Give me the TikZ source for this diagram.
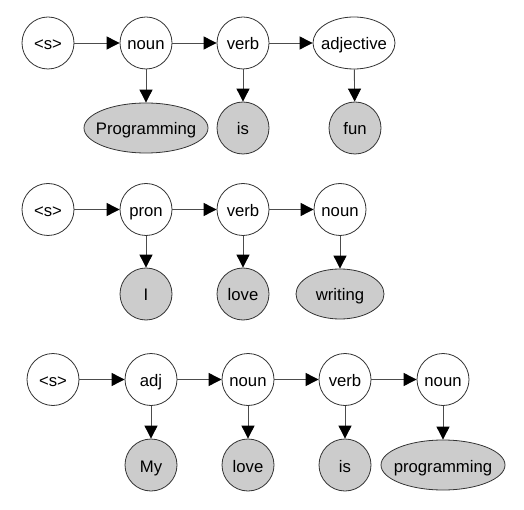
\documentclass[tikz,border=0pt]{standalone}
\usepackage{fontspec}
\setmainfont{Liberation Sans}
\usetikzlibrary{arrows.meta,shapes.geometric}
\tikzset{
  base/.style={draw=black!80, line width=0.8pt, inner sep=0pt, text height=14pt, text depth=0pt, font=\fontsize{16.7}{20}\selectfont},
  tag/.style={base, circle, minimum size=52pt, fill=white},
  tagell/.style={base, ellipse, minimum width=#1, minimum height=52pt, fill=white},
  word/.style={base, circle, minimum size=52pt, fill=black!20},
  wordell/.style={base, ellipse, minimum width=#1, minimum height=50pt, fill=black!20},
  link/.style={draw=black!70, line width=0.9pt, -{Triangle[length=13pt,width=13pt,color=black]}}
}
\begin{document}
\begin{tikzpicture}[x=1pt,y=-1pt]
\path[use as bounding box] (0,0) rectangle (524,510);
% row 1
\node[tag] (s1) at (48,43) {<s>};
\node[tag] (n1) at (146,43) {noun};
\node[tag] (v1) at (243,43) {verb};
\node[tagell=82pt] (a1) at (354,43) {\makebox[0pt]{adjective}};
\node[wordell=124pt] (w11) at (146,128) {\makebox[0pt]{Programming}};
\node[word] (w12) at (243,128) {is};
\node[word] (w13) at (355,128) {fun};
\draw[link] (s1) -- (n1);
\draw[link] (n1) -- (v1);
\draw[link] (v1) -- (a1);
\draw[link] (n1) -- (w11);
\draw[link] (v1) -- (w12);
\draw[link] (a1) -- (w13);
% row 2
\node[tag] (s2) at (48,209.5) {<s>};
\node[tag] (p2) at (146,209.5) {pron};
\node[tag] (v2) at (243,209.5) {verb};
\node[tag] (n2) at (340,209.5) {noun};
\node[word] (w21) at (146,294) {I};
\node[word] (w22) at (243,294) {love};
\node[wordell=88pt] (w23) at (340,294) {\makebox[0pt]{writing}};
\draw[link] (s2) -- (p2);
\draw[link] (p2) -- (v2);
\draw[link] (v2) -- (n2);
\draw[link] (p2) -- (w21);
\draw[link] (v2) -- (w22);
\draw[link] (n2) -- (w23);
% row 3
\node[tag] (s3) at (53,379.5) {<s>};
\node[tag] (a3) at (151,379.5) {adj};
\node[tag] (n3) at (248,379.5) {noun};
\node[tag] (v3) at (345,379.5) {verb};
\node[tag] (m3) at (443,379.5) {noun};
\node[word] (w31) at (151,465) {My};
\node[word] (w32) at (248,465) {love};
\node[word] (w33) at (345,465) {is};
\node[wordell=124pt] (w34) at (443,465) {\makebox[0pt]{programming}};
\draw[link] (s3) -- (a3);
\draw[link] (a3) -- (n3);
\draw[link] (n3) -- (v3);
\draw[link] (v3) -- (m3);
\draw[link] (a3) -- (w31);
\draw[link] (n3) -- (w32);
\draw[link] (v3) -- (w33);
\draw[link] (m3) -- (w34);
\end{tikzpicture}
\end{document}
